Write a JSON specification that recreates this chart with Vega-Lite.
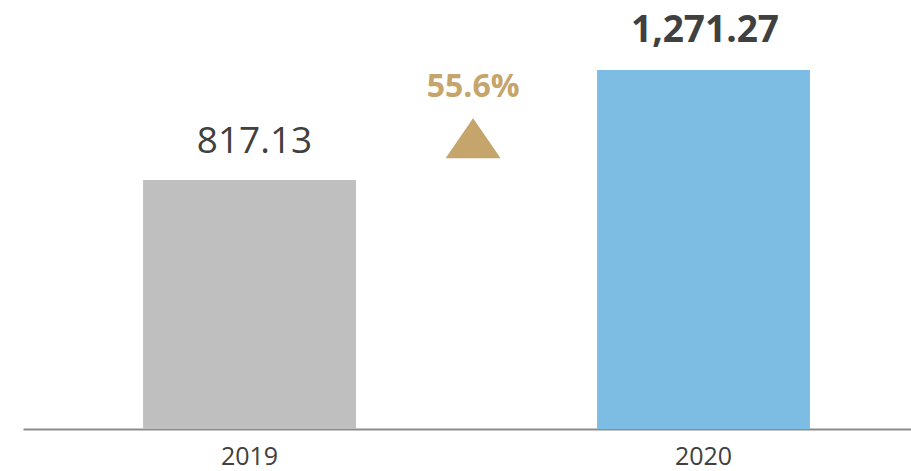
{
  "$schema": "https://vega.github.io/schema/vega-lite/v6.json",
  "width": 888,
  "height": 429,
  "autosize": {"type": "none"},
  "padding": {"left": 23, "top": 0, "right": 0, "bottom": 42},
  "background": "white",
  "config": {"view": {"stroke": null}, "font": "Open Sans"},
  "data": {"values": [
    {"year": "2019", "value": 817.13, "label": "817.13"},
    {"year": "2020", "value": 1271.27, "label": "1,271.27"}
  ]},
  "encoding": {
    "x": {
      "field": "year", "type": "nominal", "sort": null,
      "scale": {"paddingInner": 0.531, "paddingOuter": 0.2435, "align": 0.543},
      "axis": {"title": null, "labelAngle": 0, "domainColor": "#8c8c8c", "domainWidth": 2, "ticks": false, "tickSize": 0, "labelPadding": 15, "labelFont": "Open Sans", "labelFontSize": 25, "labelColor": "#404040", "grid": false}
    }
  },
  "layer": [
    {
      "mark": {"type": "bar"},
      "encoding": {
        "y": {"field": "value", "type": "quantitative", "scale": {"domain": [-210.9, 1560.3], "zero": false, "nice": false}, "axis": null},
        "y2": {"datum": -210.9},
        "color": {"field": "year", "type": "nominal", "scale": {"range": ["#bfbfbf", "#7dbde3"]}, "legend": null}
      }
    },
    {
      "transform": [{"filter": "datum.year == '2019'"}],
      "mark": {"type": "text", "fontSize": 37, "color": "#404040", "baseline": "alphabetic", "dy": -27, "dx": 5},
      "encoding": {"y": {"field": "value", "type": "quantitative"}, "text": {"field": "label"}}
    },
    {
      "transform": [{"filter": "datum.year == '2020'"}],
      "mark": {"type": "text", "fontSize": 37, "fontWeight": "bold", "color": "#404040", "baseline": "alphabetic", "dy": -28, "dx": 1.5},
      "encoding": {"y": {"field": "value", "type": "quantitative"}, "text": {"field": "label"}}
    },
    {
      "data": {"values": [{"year": "2019", "change": "55.6%"}]},
      "layer": [
        {
          "mark": {"type": "text", "fontSize": 32, "fontWeight": "bold", "color": "#c6a56c", "baseline": "alphabetic"},
          "encoding": {
            "x": {"field": "year", "type": "nominal", "bandPosition": 1.55},
            "y": {"datum": 1161},
            "text": {"field": "change"}
          }
        },
        {
          "mark": {"type": "point", "shape": "M0,-0.727L1,0.727L-1,0.727Z", "size": 3025, "filled": true, "color": "#c6a56c", "opacity": 1, "strokeWidth": 0},
          "encoding": {
            "x": {"field": "year", "type": "nominal", "bandPosition": 1.55},
            "y": {"datum": 989.3}
          }
        }
      ]
    }
  ]
}
